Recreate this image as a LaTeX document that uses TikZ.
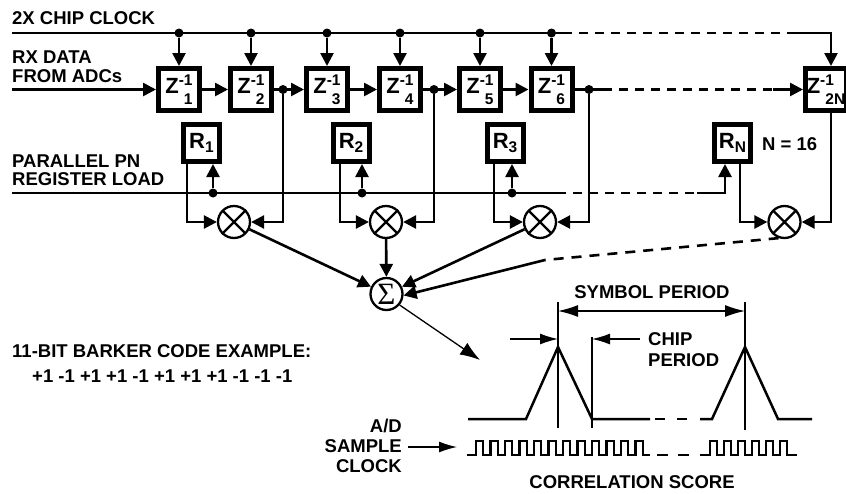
\documentclass[tikz,border=0pt]{standalone}
\usepackage[no-math]{fontspec}
\setmainfont{Liberation Sans}
\newfontfamily\sigmafont{Liberation Serif}
\usetikzlibrary{arrows.meta}
\newcommand\lblfont{\fontsize{18.5}{20}\selectfont\bfseries}
\newcommand\bigfont{\fontsize{22}{24}\selectfont\bfseries}
\newcommand\smfont{\fontsize{15.5}{16}\selectfont\bfseries}
\newcommand\zlab[1]{Z\rlap{\raisebox{8.5pt}{\smfont -1}}\raisebox{-10.5pt}{\smfont\hphantom{-}#1}}
\newcommand\rlab[1]{R\raisebox{-3.5pt}{\smfont #1}}
\begin{document}
\begin{tikzpicture}[x=1pt,y=-1pt,
  wire/.style={line width=2.6pt},
  thinw/.style={line width=1.3pt},
  arr/.style={-{Triangle[length=13pt,width=13pt]}},
  tarr/.style={-{Latex[length=18pt,width=11pt]}},
  dsh/.style={dash pattern=on 9pt off 7pt},
  zbox/.style={draw,line width=5pt,minimum width=41pt,minimum height=42pt,inner sep=0pt,font=\bigfont},
  rbox/.style={draw,line width=5pt,minimum width=36pt,minimum height=37pt,inner sep=0pt,font=\bigfont},
  mul/.style={draw,circle,line width=2.3pt,minimum size=32pt,inner sep=0pt},
  dot/.style={circle,fill,inner sep=0pt,minimum size=9pt},
  lbl/.style={inner sep=0pt,font=\lblfont},
  wave/.style={line width=2.5pt},
  sq/.style={line width=2.2pt},
]
\useasboundingbox (0,0) rectangle (846,493);

% ---- delay line boxes and clock
\foreach \i/\x in {1/179,2/251,3/327,4/400,5/480,6/551.5} {
  \node[zbox] (z\i) at (\x,89.5) {\zlab{\i}};
  \node[dot] (cd\i) at (\x,33) {};
  \draw[wire,arr] (cd\i) -- (z\i);
}
\node[zbox] (z2n) at (826,89.5) {\zlab{2N}};

\coordinate (cs) at (12,33);
\coordinate (cde) at (563,33);
\coordinate (cdd) at (787,33);
\coordinate (cc) at (831,33);
\draw[wire] (cs) -- (cde);
\draw[wire,dsh] (cde) -- (cdd);
\draw[wire,arr] (cdd) -- (cc) -- (z2n.north -| cc);

% ---- data line
\coordinate (ds) at (12,89.5);
\node[dot] (dd1) at (283,89.5) {};
\node[dot] (dd2) at (434,89.5) {};
\node[dot] (dd3) at (589,89.5) {};
\coordinate (dde) at (603,89.5);
\coordinate (ddd) at (773,89.5);
\draw[wire,arr] (ds) -- (z1);
\draw[wire,arr] (z1) -- (z2);
\draw[wire,arr] (z2) -- (z3);
\draw[wire,arr] (z3) -- (z4);
\draw[wire,arr] (z4) -- (z5);
\draw[wire,arr] (z5) -- (z6);
\draw[wire] (z6) -- (dde);
\draw[wire,dsh] (dde) -- (ddd);
\draw[wire,arr] (ddd) -- (z2n);

% ---- registers
\node[rbox] (r1) at (201.5,143) {\rlab{1}};
\node[rbox] (r2) at (351,143) {\rlab{2}};
\node[rbox] (r3) at (505,143) {\rlab{3}};
\node[rbox] (rn) at (732.5,143) {\rlab{N}};
\node[lbl,anchor=base west] (n16) at (762,150) {N = 16};

\coordinate (rs) at (12,193);
\coordinate (rde) at (557,193);
\coordinate (rdd) at (697,193);
\coordinate (rc) at (725,193);
\node[dot] (rd1) at (213,193) {};
\node[dot] (rd2) at (362,193) {};
\node[dot] (rd3) at (512,193) {};
\draw[wire] (rs) -- (rde);
\draw[wire,dsh] (rde) -- (rdd);
\draw[wire,arr] (rdd) -- (rc) -- (rc |- rn.south);
\draw[wire,arr] (rd1) -- (rd1 |- r1.south);
\draw[wire,arr] (rd2) -- (rd2 |- r2.south);
\draw[wire,arr] (rd3) -- (rd3 |- r3.south);

% ---- multipliers
\foreach \n/\x in {p1/234,p2/386,p3/540,pn/784.5} {
  \node[mul] (\n) at (\x,222) {};
  \draw[line width=2.3pt,shorten <=1.2pt,shorten >=1.2pt] (\n.45) -- (\n.225) (\n.135) -- (\n.315);
}
\draw[wire,arr] ([xshift=-14.5pt]r1.south) |- (p1);
\draw[wire,arr] ([xshift=-11pt]r2.south) |- (p2);
\draw[wire,arr] ([xshift=-11pt]r3.south) |- (p3);
\draw[wire,arr] ([xshift=7.5pt]rn.south) |- (pn);
\draw[wire,arr] (dd1) |- (p1);
\draw[wire,arr] (dd2) |- (p2);
\draw[wire,arr] (dd3) |- (p3);
\draw[wire,arr] (z2n.south -| cc) |- (pn);

% ---- summer
\node[mul] (sum) at (386.5,294) {\fontsize{31}{31}\selectfont\sigmafont Σ};
\draw[wire,arr] (p1) -- (sum);
\draw[wire,arr] (p2) -- (sum);
\draw[wire,arr] (p3) -- (sum);
\coordinate (nb) at (545,260);
\draw[wire,dash pattern=on 10pt off 8pt] (pn.250) -- (nb);
\draw[wire,arr] (nb) -- (sum.-5);
\coordinate (st) at (480,360);
\draw[thinw,-{Latex[length=20pt,width=14pt]}] (sum.-40) -- (st);

% ---- labels
\node[lbl,anchor=base west] (tclk) at (12,24.3) {2X CHIP CLOCK};
\node[lbl,anchor=base west] (trx1) at (12,63) {RX DATA};
\node[lbl,anchor=base west] (trx2) at (12,82) {FROM ADCs};
\node[lbl,anchor=base west] (tpp1) at (12,167) {PARALLEL PN};
\node[lbl,anchor=base west] (tpp2) at (12,185.5) {REGISTER LOAD};
\node[lbl,anchor=base west] (tbk1) at (12,357) {11-BIT BARKER CODE EXAMPLE:};
\node[lbl,anchor=base west] (tbk2) at (32,382) {+1 -1 +1 +1 -1 +1 +1 +1 -1 -1 -1};
\node[lbl,anchor=base east] (tad1) at (402,432) {A/D};
\node[lbl,anchor=base east] (tad2) at (402,452) {SAMPLE};
\node[lbl,anchor=base east] (tad3) at (402,472) {CLOCK};
\node[lbl,anchor=base] (tcs) at (632,488) {CORRELATION SCORE};
\node[lbl,anchor=base] (tsp) at (652,298) {SYMBOL PERIOD};
\node[lbl,anchor=base west] (tch1) at (648,345) {CHIP};
\node[lbl,anchor=base west] (tch2) at (648,366) {PERIOD};

\coordinate (ad) at (457,447);
\draw[thinw,tarr,shorten <=6pt] (tad2.east |- ad) -- (ad);

% ---- timing diagram
\draw[thinw] (558,302) -- (558,428);
\draw[thinw] (745,302) -- (745,430);
\draw[thinw] (592,337) -- (592,428);
\draw[thinw,{Latex[length=20pt,width=12pt]}-{Latex[length=20pt,width=12pt]}] (558,311) -- (745,311);
\draw[thinw,tarr] (510,339) -- (558,339);
\draw[thinw,tarr] (640,339) -- (592,339);

\draw[wave] (468,419) -- (526,419) -- (558,347) -- (592,419) -- (650,419);
\draw[wave] (655,419) -- (665,419) (677,419) -- (687,419);
\draw[wave] (700,419) -- (712,419) -- (745,347) -- (778,419) -- (812,419);

\draw[sq] (467,455) foreach \k in {0,...,11} { -- ({476+14.5*\k},455) -- ++(0,-14) -- ++(7.25,0) -- ++(0,14) } -- (650,455);
\draw[sq] (657,455) -- (668,455) (678,455) -- (689,455);
\draw[sq] (700,455) foreach \k in {0,...,5} { -- ({710+14*\k},455) -- ++(0,-14) -- ++(7,0) -- ++(0,14) } -- (797,455);
\end{tikzpicture}
\end{document}
